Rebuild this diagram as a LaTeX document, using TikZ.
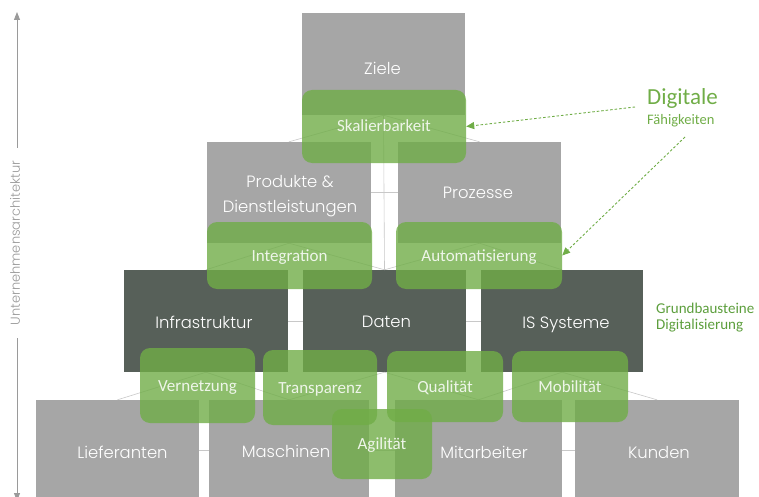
\documentclass[tikz,border=0pt]{standalone}
\usepackage{fontspec}
\setmainfont{Carlito}
\newfontfamily\gothic{Poppins Light}
\usetikzlibrary{arrows.meta}

\definecolor{boxgray}{HTML}{A6A6A6}
\definecolor{boxdark}{HTML}{576059}
\definecolor{capgreen}{HTML}{70AD47}
\definecolor{linkgray}{HTML}{C8C8C8}
\definecolor{axisgray}{HTML}{9A9A9A}
\definecolor{notegreen}{HTML}{70AD47}
\definecolor{basegreen}{HTML}{5C9E3C}

\begin{document}
\begin{tikzpicture}[x=1pt,y=-1pt,
  block/.style={draw=none, inner sep=0pt, minimum height=101pt},
  graybox/.style={block, fill=boxgray},
  darkbox/.style={block, fill=boxdark},
  blocktext/.style={inner sep=0pt, anchor=base, text=white, font=\gothic\fontsize{16.4}{25}\selectfont, align=center},
  capbox/.style={draw=none, fill=capgreen, fill opacity=0.8, text opacity=1,
    rounded corners=10pt, inner sep=0pt, text=white!88!capgreen,
    font=\fontsize{17}{17}\selectfont, text height=11pt, text depth=0pt},
  link/.style={draw=linkgray, line width=0.6pt},
  axis/.style={draw=axisgray, line width=0.9pt},
  note/.style={draw=notegreen, line width=0.9pt, dash pattern=on 2.5pt off 2pt,
    -{Triangle[length=8pt,width=7pt]}},
]
\useasboundingbox (0,0) rectangle (759,497);
\clip (0,0) rectangle (759,497);

% --- pyramid levels ---
\node[graybox, minimum width=163pt, minimum height=102pt] (ziele) at (383.5,64) {};

\node[graybox, minimum width=164pt] (prod) at (289,192.5) {};
\node[graybox, minimum width=163pt] (proz) at (479.5,192.5) {};

\node[darkbox, minimum width=164pt, minimum height=102pt] (infra) at (206,321) {};
\node[darkbox, minimum width=163pt, minimum height=102pt] (daten) at (384.5,321) {};
\node[darkbox, minimum width=162pt, minimum height=102pt] (issys) at (562,321) {};

\node[graybox, minimum width=163pt, minimum height=100pt] (lief) at (117.5,450) {};
\node[graybox, minimum width=160pt, minimum height=100pt] (masch) at (289,450) {};
\node[graybox, minimum width=167pt, minimum height=100pt] (mitarb) at (478.5,450) {};
\node[graybox, minimum width=164pt, minimum height=100pt] (kunden) at (657,450) {};

% --- hierarchy links ---
\foreach \a/\b in {ziele/prod, ziele/proz, ziele/daten,
                   prod/infra, prod/daten, proz/daten, proz/issys,
                   infra/lief, infra/masch, daten/masch, daten/mitarb,
                   issys/mitarb, issys/kunden}
  \draw[link] (\a.south) -- (\b.north);
\foreach \a/\b in {prod/proz, infra/daten, daten/issys,
                   lief/masch, masch/mitarb, mitarb/kunden}
  \draw[link] (\a.east) -- (\b.west);

% --- level labels ---
\node[blocktext] (tziele) at (382.5,75) {Ziele};
\node[blocktext] (tprod) at (290,212) {Produkte \&\\Dienstleistungen};
\node[blocktext] (tproz) at (478,198) {Prozesse};
\node[blocktext] (tinfra) at (204,328) {Infrastruktur};
\node[blocktext] (tdaten) at (386.5,327) {Daten};
\node[blocktext] (tissys) at (566,328) {IS Systeme};
\node[blocktext] (tlief) at (122.5,458) {Lieferanten};
\node[blocktext] (tmasch) at (286,457) {Maschinen};
\node[blocktext] (tmitarb) at (484,458) {Mitarbeiter};
\node[blocktext] (tkunden) at (659,458) {Kunden};

% --- digital capabilities ---
\node[capbox, minimum width=164pt, minimum height=73pt] (skal) at (384,126.5) {Skalierbarkeit};
\node[capbox, minimum width=165pt, minimum height=67pt] (integ) at (289.5,255.5) {Integration};
\node[capbox, minimum width=166pt, minimum height=67pt] (auto) at (479,255.5) {Automatisierung};
\node[capbox, minimum width=115pt, minimum height=75pt] (vern) at (197.5,385.5) {Vernetzung};
\node[capbox, minimum width=114pt, minimum height=75pt] (transp) at (320,387.5) {Transparenz};
\node[capbox, minimum width=116pt, minimum height=71pt] (qual) at (445,386.5) {Qualität};
\node[capbox, minimum width=116pt, minimum height=71pt] (mob) at (570,386.5) {Mobilität};
\node[capbox, minimum width=100pt, minimum height=70pt] (agil) at (382,444) {Agilität};

% --- annotations ---
\node[anchor=base west, inner sep=0pt, text=notegreen, font=\fontsize{23}{23}\selectfont] (digi) at (647,105) {Digitale};
\node[anchor=base west, inner sep=0pt, text=notegreen, font=\fontsize{14.5}{14.5}\selectfont] (faehig) at (647,125) {Fähigkeiten};
\coordinate (n1) at (635,107);
\coordinate (n2) at (685,137);
\draw[note] (n1) -- (skal.east);
\draw[note] (n2) -- (auto.east);

\node[anchor=base west, inner sep=0pt, text=basegreen, align=left, font=\fontsize{15}{16.5}\selectfont] (grund) at (656,329.5) {Grundbausteine\\Digitalisierung};

% --- side axis ---
\node[rotate=90, inner ysep=0pt, inner xsep=13pt, text=axisgray, font=\gothic\fontsize{13}{13}\selectfont] (axlabel) at (15,243) {Unternehmensarchitektur};
\coordinate (axtop) at (17,12);
\coordinate (axbot) at (17,501);
\draw[axis, -{Triangle[length=8pt,width=6pt]}] (axtop |- axlabel.east) -- (axtop);
\draw[axis, -{Triangle[length=8pt,width=6pt]}] (axbot |- axlabel.west) -- (axbot);
\end{tikzpicture}
\end{document}
